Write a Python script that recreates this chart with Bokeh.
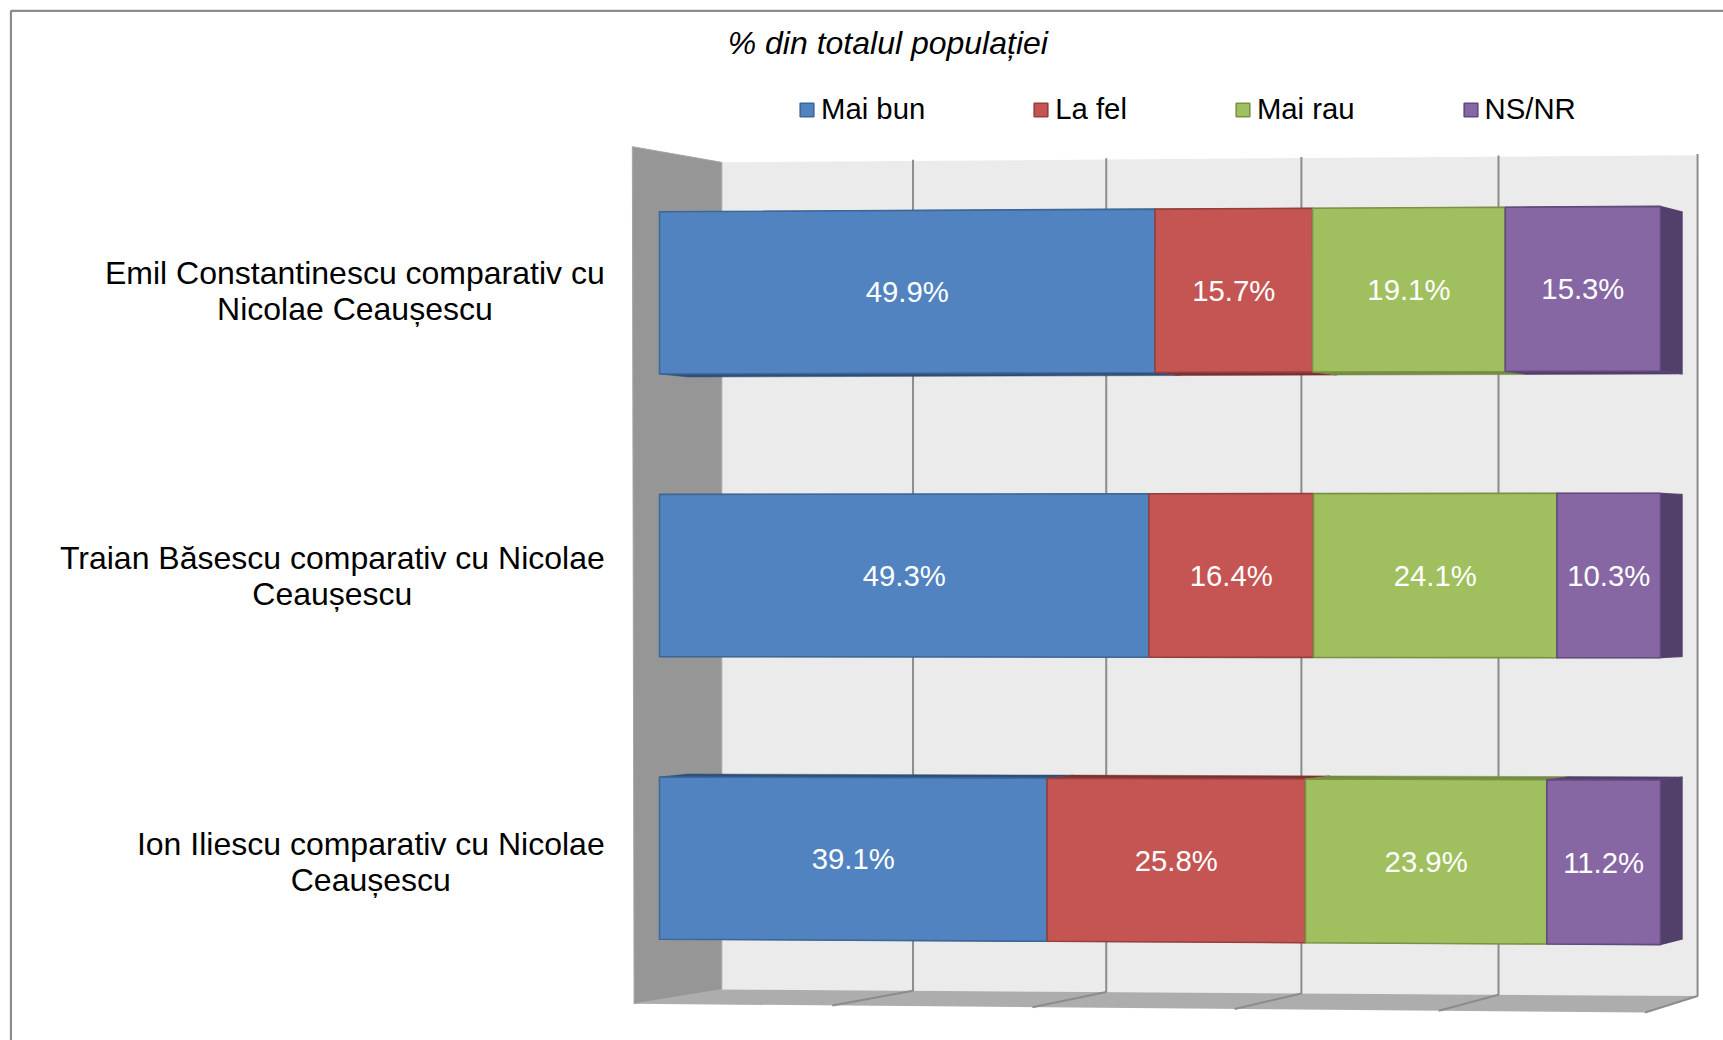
from bokeh.plotting import figure
from bokeh.models import Range1d
from bokeh.core.properties import value
from bokeh.embed import file_html
from bokeh.resources import INLINE

# ---- data
categories = ["Emil Constantinescu comparativ cu\nNicolae Ceaușescu",
              "Traian Băsescu comparativ cu Nicolae\nCeaușescu",
              "Ion Iliescu comparativ cu Nicolae\nCeaușescu"]
series_names = ["Mai bun", "La fel", "Mai rau", "NS/NR"]
mai_bun = [49.9, 49.3, 39.1]
la_fel = [15.7, 16.4, 25.8]
mai_rau = [19.1, 24.1, 23.9]
ns_nr = [15.3, 10.3, 11.2]
axis_ticks = [0, 20, 40, 60, 80, 100]
title_text = "% din totalul populației"

# ---- style / layout
series = [mai_bun, la_fel, mai_rau, ns_nr]
front = ["#5083c0", "#c45552", "#a0c05f", "#8667a3"]
edge = ["#3c6797", "#94403e", "#7a9246", "#614a7c"]
dark = ["#2f4f78", "#7c3230", "#748c42", "#523f6a"]
FS = "29.3px"
FS_BIG = "32px"
FONT = value("Liberation Sans")
W, H = 1723, 1040
OFF = 0
S = 1723 / 1568           # displayed px -> page px
PX_PER_PCT = 10.01
X0 = 659.0                # page px of 0 %
Y0 = 575.0                # page px of middle row
ROW = 282.6
HALF = 0.287


def sx(d):   # displayed px -> data x
    return (d * S - X0) / PX_PER_PCT


def sy(d):   # displayed px -> data y
    return (Y0 - d * S) / ROW


def persp(v, c=0.00016):
    return v * (1 - c * (100 - v))


def fy(x, y):   # slight perspective tilt
    return y * (1 + 0.00015 * x)


def back(x, y):
    return x + 2.85 - 0.0066 * x, fy(x, y) * 0.985


p = figure(width=W, height=H, output_backend="svg", toolbar_location=None,
           x_range=Range1d((OFF - X0) / PX_PER_PCT, (OFF + W - X0) / PX_PER_PCT),
           y_range=Range1d((Y0 - OFF - H) / ROW, (Y0 - OFF) / ROW),
           min_border=0, outline_line_color=None, background_fill_color="white",
           border_fill_color="white")
p.xaxis.visible = False
p.yaxis.visible = False
p.grid.visible = False

# frame
fc = "#8c8c8c"
p.line([sx(9.5), sx(9.5), sx(1600)], [sy(1000), sy(9.5), sy(9.5)], line_color=fc, line_width=2.2)

# walls
bx = lambda t: sx(656.4 + 888 * persp(t, 0.00025) / 100)
fx = lambda t: sx(576.6 + 920 * persp(t, 0.00025) / 100)
btop = lambda t: sy(147.3 - 6.5 * t / 100)
bbot = lambda t: sy(900 + 6 * t / 100)
fbot = lambda t: sy(913 + 8 * t / 100)
p.patch([bx(0), bx(100), bx(100), bx(0)], [btop(0), btop(100), bbot(100), bbot(0)],
        fill_color="#ebebeb", line_color=None)
p.patch([sx(575), bx(0), bx(0), fx(0)], [sy(133), btop(0), bbot(0), fbot(0)],
        fill_color="#969696", line_color="#a6a6a6", line_width=1)
p.patch([fx(0), bx(0), bx(100), fx(100)], [fbot(0), bbot(0), bbot(100), fbot(100)],
        fill_color="#adadad", line_color=None)
for t in axis_ticks[1:]:
    p.line([bx(t), bx(t), fx(t)], [btop(t) + 0.004, bbot(t), fbot(t)], line_color=fc, line_width=2)

rows = [1, 0, -1]
starts = [0.0] * 3
face_sets = []
for i, vals in enumerate(series):
    xs, ys, bxs, bys, lab_x, lab_y = [], [], [], [], [], []
    for j, v in enumerate(vals):
        a, b = starts[j], min(starts[j] + v, 100.0)
        starts[j] = b
        pa, pb = persp(a), persp(b)
        r = rows[j]
        t, u = r + HALF, r - HALF
        xs.append([pa, pb, pb, pa])
        ys.append([fy(pa, t), fy(pb, t), fy(pb, u), fy(pa, u)])
        # top / bottom depth faces
        for e in (t, u):
            ba = back(pa, e)
            bb = back(pb, e)
            bxs.append([pa, pb, bb[0], ba[0]])
            bys.append([fy(pa, e), fy(pb, e), bb[1], ba[1]])
        # right-hand face of the last segment
        if i == len(series) - 1:
            bt = back(pb, t)
            bu = back(pb, u)
            bxs.append([pb, bt[0], bu[0], pb])
            bys.append([fy(pb, t), bt[1], bu[1], fy(pb, u)])
        mid = (pa + pb) / 2
        lab_x.append(mid)
        lab_y.append(fy(mid, r))
    face_sets.append((xs, ys, bxs, bys, lab_x, lab_y, vals))

for i, fs in enumerate(face_sets):
    p.patches(fs[2], fs[3], fill_color=dark[i], line_color=dark[i], line_width=0.5)
for i, fs in enumerate(face_sets):
    p.patches(fs[0], fs[1], fill_color=front[i], line_color=edge[i], line_width=1.6,
              legend_label=series_names[i])
for i, fs in enumerate(face_sets):
    p.text(fs[4], fs[5], text=[f"{v:.1f}%" for v in fs[6]], text_color="white",
           text_font=FONT, text_font_size=FS, text_align="center", text_baseline="middle")

# category labels
cat_x = [sx(322.5), sx(302), sx(337)]
cat_y = [sy(264), sy(523.7), sy(783.7)]
p.text(cat_x, cat_y, text=categories, text_color="black", text_font=FONT, text_font_size=FS_BIG,
       text_align="center", text_baseline="middle", text_line_height=1.0)

# title
p.text([sx(807.5)], [sy(39)], text=[title_text], text_color="black", text_font=FONT,
       text_font_size=FS_BIG, text_font_style="italic", text_align="center", text_baseline="middle")

# legend
lg = p.legend[0]
lg.orientation = "horizontal"
lg.location = (798, H - 109 - 17)
lg.background_fill_alpha = 0
lg.border_line_color = None
lg.margin = 0
lg.padding = 0
lg.spacing = 107
lg.glyph_width = 17
lg.glyph_height = 17
lg.label_standoff = 6
lg.label_text_font = "Liberation Sans"
lg.label_text_font_size = FS
lg.label_text_color = "black"
lg.label_height = 34
lg.label_text_baseline = "middle"

open("out.html", "w").write(file_html(p, INLINE))
